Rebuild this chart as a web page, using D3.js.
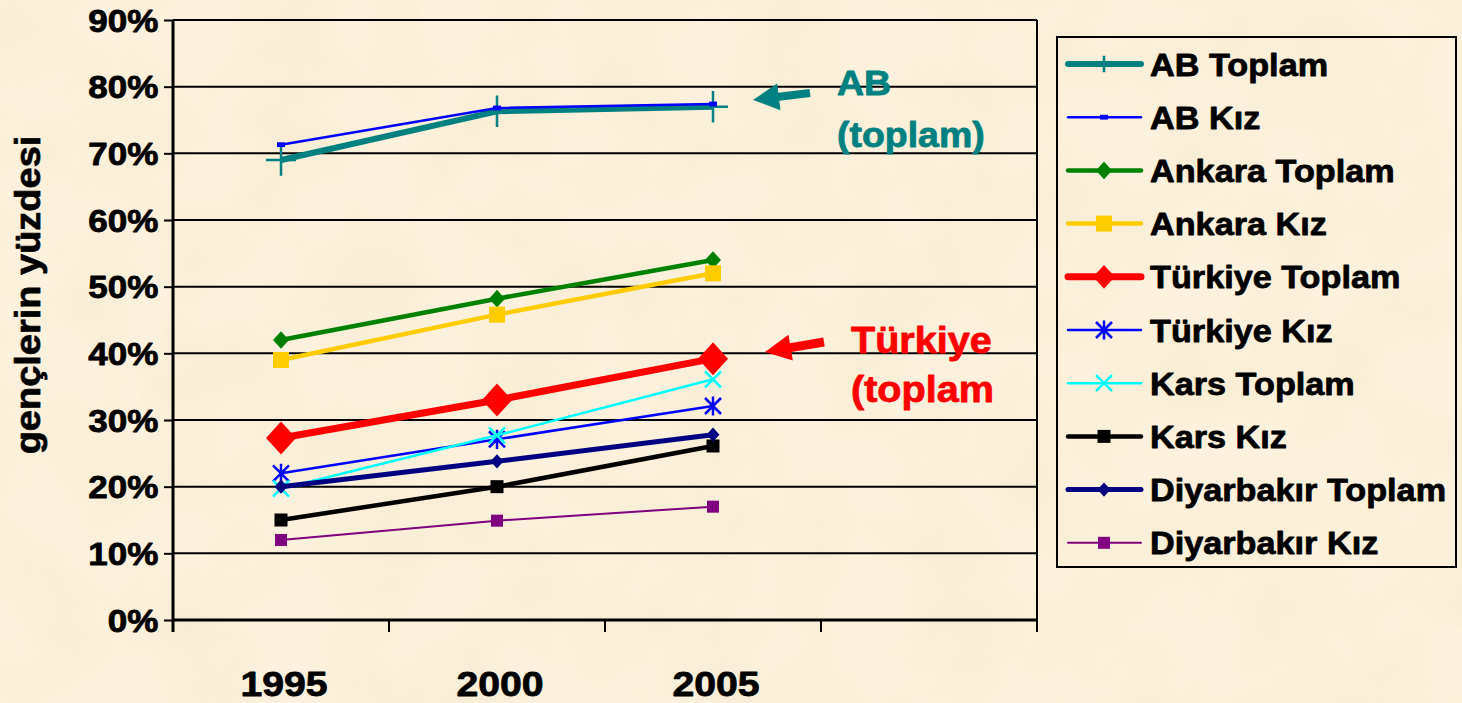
<!DOCTYPE html>
<html>
<head>
<meta charset="utf-8">
<script src="https://cdn.jsdelivr.net/npm/d3@7"></script>
<style>
  body { margin: 0; background: #fbf1dc; }
  svg { display: block; font-family: "Liberation Sans", Arial, sans-serif; font-weight: bold; }
  svg text { stroke-width: 0.8px; stroke-linejoin: round; }
</style>
</head>
<body>
<svg width="1462" height="703"></svg>
<script>
// data (percent)
const years = ["1995", "2000", "2005"];
const yTicks = [0, 10, 20, 30, 40, 50, 60, 70, 80, 90];
const seriesNames = ["AB Toplam", "AB Kız", "Ankara Toplam", "Ankara Kız", "Türkiye Toplam",
                     "Türkiye Kız", "Kars Toplam", "Kars Kız", "Diyarbakır Toplam", "Diyarbakır Kız"];
const abToplam        = [69.0, 76.3, 77.0];
const abKiz           = [71.3, 76.8, 77.4];
const ankaraToplam    = [42.0, 48.2, 54.0];
const ankaraKiz       = [39.0, 45.8, 52.0];
const turkiyeToplam   = [27.3, 33.0, 39.2];
const turkiyeKiz      = [22.0, 27.1, 32.1];
const karsToplam      = [19.7, 27.7, 36.1];
const karsKiz         = [15.0, 20.0, 26.1];
const diyarbakirToplam = [20.0, 23.8, 27.8];
const diyarbakirKiz   = [12.0, 14.9, 17.0];

const seriesValues = [abToplam, abKiz, ankaraToplam, ankaraKiz, turkiyeToplam,
                      turkiyeKiz, karsToplam, karsKiz, diyarbakirToplam, diyarbakirKiz];

// look of each series
const styles = [
  {color: "#008080", width: 6,   marker: "plus",     size: 15},
  {color: "#0000ff", width: 2.5, marker: "dash",     size: 4},
  {color: "#008000", width: 4.5, marker: "diamond",  size: 8},
  {color: "#ffcc00", width: 4.5, marker: "square",   size: 8},
  {color: "#ff0000", width: 7,   marker: "diamond",  size: 15},
  {color: "#0000ff", width: 2.5, marker: "asterisk", size: 8},
  {color: "#00ffff", width: 2.5, marker: "x",        size: 8},
  {color: "#000000", width: 4.5, marker: "square",   size: 6.5},
  {color: "#000080", width: 5,   marker: "diamond",  size: 6.5},
  {color: "#800080", width: 2,   marker: "square",   size: 6}
];

var svg = d3.select("svg"),
    margin = {top: 20, right: 425, bottom: 83, left: 173},
    width = +svg.attr("width") - margin.left - margin.right,
    height = +svg.attr("height") - margin.top - margin.bottom;

// parchment background
var defs = svg.append("defs");
var f = defs.append("filter").attr("id", "paper").attr("x", 0).attr("y", 0).attr("width", 1).attr("height", 1);
f.append("feTurbulence").attr("type", "fractalNoise").attr("baseFrequency", 0.012).attr("numOctaves", 3).attr("seed", 4);
f.append("feColorMatrix").attr("type", "matrix")
  .attr("values", "0 0 0 0 0.86  0 0 0 0 0.76  0 0 0 0 0.52  1.6 0 0 0 -0.62");
svg.append("rect").attr("width", 1462).attr("height", 703).attr("fill", "#fbf1dc");
svg.append("rect").attr("width", 1462).attr("height", 703).attr("filter", "url(#paper)").attr("opacity", 0.35);

var x = d3.scaleBand().domain(d3.range(4)).range([0, width]);   // 4th slot stays empty
var y = d3.scaleLinear().domain([0, 90]).range([height, 0]);
var bw = x.bandwidth();

var g = svg.append("g").attr("transform", "translate(" + margin.left + "," + margin.top + ")");

// gridlines
g.selectAll(".grid")
  .data(yTicks.filter(d => d > 0))
  .join("line")
    .attr("x1", 0).attr("x2", width)
    .attr("y1", d => y(d)).attr("y2", d => y(d))
    .attr("stroke", "#000").attr("stroke-width", 2);

// right border of plot area
g.append("line")
  .attr("x1", width).attr("x2", width)
  .attr("y1", y(90)).attr("y2", height + 12)
  .attr("stroke", "#000").attr("stroke-width", 2);

// y axis
var yAxis = g.append("g")
  .call(d3.axisLeft(y).tickValues(yTicks).tickSize(9).tickFormat(d => d + "%"));
yAxis.select(".domain").attr("stroke-width", 3).attr("d", "M0," + y(90) + "V" + (height + 12));
yAxis.selectAll(".tick line").attr("stroke-width", 2);
yAxis.selectAll(".tick text")
  .attr("x", -13).attr("dy", "0.36em")
  .attr("font-size", 31).attr("font-family", null).attr("fill", "#000").attr("stroke", "#000")
  .attr("transform", "scale(1.13,1)");

// x axis: line, ticks between categories, labels
g.append("line")
  .attr("x1", 0).attr("x2", width).attr("y1", height).attr("y2", height)
  .attr("stroke", "#000").attr("stroke-width", 3);
g.selectAll(".xtick")
  .data(d3.range(5))
  .join("line")
    .attr("x1", d => d < 4 ? x(d) : width).attr("x2", d => d < 4 ? x(d) : width)
    .attr("y1", height).attr("y2", height + 12)
    .attr("stroke", "#000").attr("stroke-width", 2);
g.selectAll(".xlabel")
  .data(years)
  .join("text")
    .attr("transform", (d, i) => "translate(" + (x(i) + bw / 2 + 3) + "," + (height + 76) + ") scale(1.12,1)")
    .attr("text-anchor", "middle")
    .attr("font-size", 35)
    .attr("stroke", "#000")
    .text(d => d);

// y axis title
svg.append("text")
  .attr("transform", "translate(40,295) rotate(-90) scale(1,0.9)")
  .attr("text-anchor", "middle")
  .attr("font-size", 38)
  .attr("stroke", "#000")
  .text("gençlerin yüzdesi");

function drawMarker(sel, st, k) {
  var s = st.size * k, c = st.color;
  if (st.marker == "diamond") {
    sel.append("path").attr("d", "M0," + (-s * 1.1) + "L" + s + ",0L0," + (s * 1.1) + "L" + (-s) + ",0Z").attr("fill", c);
  } else if (st.marker == "square") {
    sel.append("rect").attr("x", -s).attr("y", -s).attr("width", 2 * s).attr("height", 2 * s).attr("fill", c);
  } else if (st.marker == "dash") {
    sel.append("rect").attr("x", -s).attr("y", -s * 0.6).attr("width", 2 * s).attr("height", s * 1.2).attr("fill", c);
  } else if (st.marker == "plus") {
    sel.append("path").attr("d", "M" + (-s) + ",0H" + s + "M0," + (-s * 1.05) + "V" + (s * 1.05))
      .attr("stroke", c).attr("stroke-width", 2.5).attr("fill", "none");
  } else if (st.marker == "x") {
    sel.append("path").attr("d", "M" + (-s) + "," + (-s) + "L" + s + "," + s + "M" + (-s) + "," + s + "L" + s + "," + (-s))
      .attr("stroke", c).attr("stroke-width", 2.5).attr("fill", "none");
  } else if (st.marker == "asterisk") {
    sel.append("path").attr("d", "M" + (-s) + "," + (-s) + "L" + s + "," + s + "M" + (-s) + "," + s + "L" + s + "," + (-s) +
                               "M0," + (-s * 1.2) + "V" + (s * 1.2))
      .attr("stroke", c).attr("stroke-width", 2.5).attr("fill", "none");
  }
}

var line = d3.line()
  .x((d, i) => x(i) + bw / 2)
  .y(d => y(d));

seriesValues.forEach(function(vals, k) {
  var st = styles[k];
  g.append("path")
    .datum(vals)
    .attr("d", line)
    .attr("fill", "none")
    .attr("stroke", st.color)
    .attr("stroke-width", st.width)
    .attr("stroke-linejoin", "round");
  g.selectAll(".m" + k)
    .data(vals)
    .join("g")
      .attr("transform", (d, i) => "translate(" + (x(i) + bw / 2) + "," + y(d) + ")")
      .each(function() { drawMarker(d3.select(this), st, 1); });
});

// legend
var lg = svg.append("g").attr("transform", "translate(1057,37)");
lg.append("rect").attr("width", 399).attr("height", 530)
  .attr("fill", "none").attr("stroke", "#000").attr("stroke-width", 2);
var item = lg.selectAll(".item")
  .data(seriesNames)
  .join("g")
    .attr("transform", (d, i) => "translate(0," + (27 + i * 53.2) + ")");
item.append("line")
  .attr("x1", 11).attr("x2", 84).attr("y1", 0).attr("y2", 0)
  .attr("stroke", (d, i) => styles[i].color)
  .attr("stroke-width", (d, i) => styles[i].width)
  .attr("stroke-linecap", "round");
item.each(function(d, i) {
  var m = d3.select(this).append("g").attr("transform", "translate(47,0)");
  var st = styles[i];
  drawMarker(m, st.marker == "plus" ? Object.assign({}, st, {size: 11}) : st, st.size > 10 ? 0.72 : 1);
});
item.append("text")
  .attr("transform", "translate(93,0) scale(1.07,1)")
  .attr("dy", "0.36em")
  .attr("font-size", 32)
  .attr("stroke", "#000")
  .text(d => d);

// annotations
function arrow(tail, tip, shaft, headW, headL, color) {
  var dx = tip[0] - tail[0], dy = tip[1] - tail[1], len = Math.hypot(dx, dy);
  var ux = dx / len, uy = dy / len, px = -uy, py = ux;
  var bx = tip[0] - ux * headL, by = tip[1] - uy * headL;
  var pts = [
    [tail[0] + px * shaft / 2, tail[1] + py * shaft / 2],
    [bx + px * shaft / 2, by + py * shaft / 2],
    [bx + px * headW / 2, by + py * headW / 2],
    tip,
    [bx - px * headW / 2, by - py * headW / 2],
    [bx - px * shaft / 2, by - py * shaft / 2],
    [tail[0] - px * shaft / 2, tail[1] - py * shaft / 2]
  ];
  svg.append("polygon").attr("points", pts.map(p => p.join(",")).join(" ")).attr("fill", color);
}
arrow([810, 93], [753, 100], 8, 27, 26, "#008080");
arrow([824, 342], [765, 352], 9, 26, 26, "#ff0000");

function note(txt, px, py, size, color) {
  svg.append("text").attr("transform", "translate(" + px + "," + py + ") scale(1.07,1)")
    .attr("font-size", size).attr("fill", color).attr("stroke", color).text(txt);
}
note("AB", 837, 95, 35, "#008080");
note("(toplam)", 837, 147, 35, "#008080");
note("Türkiye", 851, 353, 37, "#ff0000");
note("(toplam", 851, 402, 37, "#ff0000");
</script>
</body>
</html>
